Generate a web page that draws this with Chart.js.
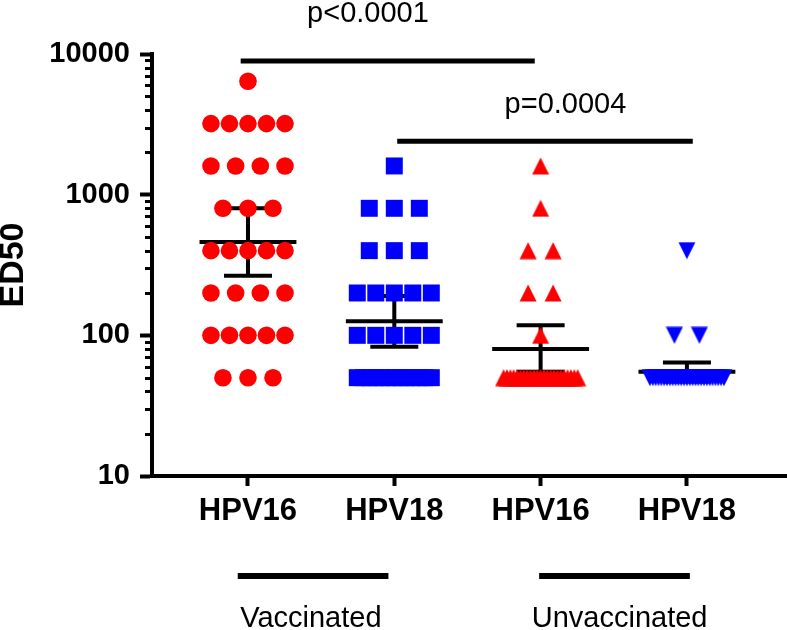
<!DOCTYPE html>
<html>
<head>
<meta charset="utf-8">
<script src="https://cdn.jsdelivr.net/npm/chart.js@4.4.1/dist/chart.umd.min.js"></script>
<style>
  html, body { margin: 0; padding: 0; background: #fff; overflow: hidden; }
  canvas { display: block; }
</style>
</head>
<body>
<canvas id="ed50Chart" width="787" height="630"></canvas>
<script>
// Données
const categories = ["HPV16", "HPV18", "HPV16", "HPV18"];
const groupLabels = ["Vaccinated", "Unvaccinated"];
const pValues = ["p<0.0001", "p=0.0004"];
const titerLevels = [50, 100, 200, 400, 800, 1600, 3200, 6400];
// nombre de sérums à chaque dilution (même ordre que titerLevels)
const vacc16Counts = [3, 5, 4, 5, 3, 4, 5, 1];
const vacc18Counts = [13, 5, 5, 3, 3, 1, 0, 0];
const unvacc16Counts = [23, 1, 2, 2, 1, 1, 0, 0];
const unvacc18Counts = [27, 2, 0, 1, 0, 0, 0, 0];
// moyenne géométrique et IC 95%
const means = [460, 126, 80, 55];
const ciLow = [265, 83, 55, 47];
const ciHigh = [800, 190, 118, 64];
const yTicks = [10, 100, 1000, 10000];

const FONT = "'Liberation Sans', Arial, sans-serif";
const RED = "#ff0000";
const BLUE = "#0000ff";

// triangles centrés sur leur boîte (comme GraphPad)
function triangleImage(color, down) {
  const c = document.createElement("canvas");
  c.width = 18;
  c.height = 18;
  const g = c.getContext("2d");
  g.fillStyle = color;
  g.beginPath();
  if (down) {
    g.moveTo(0.5, 0.5); g.lineTo(17.5, 0.5); g.lineTo(9, 17.5);
  } else {
    g.moveTo(9, 0.5); g.lineTo(17.5, 17.5); g.lineTo(0.5, 17.5);
  }
  g.closePath();
  g.fill();
  return c;
}

// étale les points d'une même valeur horizontalement
function spreadPoints(counts, column) {
  const pts = [];
  counts.forEach((n, i) => {
    const step = n > 1 ? Math.min(0.171, 0.506 / (n - 1)) : 0;
    for (let k = 0; k < n; k++) {
      pts.push({ x: column + (k - (n - 1) / 2) * step, y: titerLevels[i] });
    }
  });
  return pts;
}

// ligne de moyenne + barres d'erreur, segments séparés par des trous
function errorBar(i) {
  const c = i + 1;
  const mw = 0.331, cw = 0.164;
  return [
    { x: c - mw, y: means[i] }, { x: c + mw, y: means[i] }, { x: c, y: null },
    { x: c - cw, y: ciHigh[i] }, { x: c + cw, y: ciHigh[i] }, { x: c, y: null },
    { x: c - cw, y: ciLow[i] }, { x: c + cw, y: ciLow[i] }, { x: c, y: null },
    { x: c, y: ciLow[i] }, { x: c, y: ciHigh[i] }
  ];
}

function pointSet(data, color, style, radius) {
  return {
    type: "scatter",
    data: data,
    pointStyle: style,
    pointRadius: radius,
    backgroundColor: color,
    borderColor: color,
    borderWidth: 0,
    order: 2,
  };
}

function barSet(i) {
  return {
    type: "scatter",
    data: errorBar(i),
    showLine: true,
    spanGaps: false,
    pointRadius: 0,
    borderColor: "#000",
    borderWidth: 4,
    borderCapStyle: "butt",
    order: 3,
  };
}

const datasets = [
  barSet(0), barSet(1), barSet(2), barSet(3),
  pointSet(spreadPoints(vacc16Counts, 1), RED, "circle", 8.8),
  pointSet(spreadPoints(vacc18Counts, 2), BLUE, "rect", 12),
  pointSet(spreadPoints(unvacc16Counts, 3), RED, triangleImage(RED, false), 9),
  pointSet(spreadPoints(unvacc18Counts, 4), BLUE, triangleImage(BLUE, true), 9),
];

// barres de significativité et groupes sous l'axe
const sigBars = [
  { from: 0.95, to: 2.96, level: 8900, textX: 1.82, lift: 39, text: pValues[0] },
  { from: 2.02, to: 4.04, level: 2400, textX: 3.17, lift: 28, text: pValues[1] },
];
const groupBars = [
  { from: 0.93, to: 1.96, textX: 1.43, text: groupLabels[0] },
  { from: 2.99, to: 4.02, textX: 3.54, text: groupLabels[1] },
];

const extrasPlugin = {
  id: "extras",
  afterDraw(chart) {
    const { ctx, scales: { x, y } } = chart;
    ctx.save();
    // petites graduations du log
    ctx.strokeStyle = "#000";
    ctx.lineWidth = 3;
    for (let d = 10; d < 10000; d *= 10) {
      for (let m = 2; m <= 9; m++) {
        const py = Math.round(y.getPixelForValue(d * m)) + 0.5;
        ctx.beginPath();
        ctx.moveTo(y.right - 7, py);
        ctx.lineTo(y.right, py);
        ctx.stroke();
      }
    }
    ctx.fillStyle = "#000";
    ctx.textAlign = "center";
    ctx.textBaseline = "alphabetic";
    ctx.font = "29px " + FONT;
    ctx.lineWidth = 5;
    sigBars.forEach((b) => {
      const py = y.getPixelForValue(b.level);
      ctx.beginPath();
      ctx.moveTo(x.getPixelForValue(b.from), py);
      ctx.lineTo(x.getPixelForValue(b.to), py);
      ctx.stroke();
      ctx.fillText(b.text, x.getPixelForValue(b.textX), py - b.lift);
    });
    ctx.lineWidth = 6;
    groupBars.forEach((b) => {
      const py = chart.chartArea.bottom + 100;
      ctx.beginPath();
      ctx.moveTo(x.getPixelForValue(b.from), py);
      ctx.lineTo(x.getPixelForValue(b.to), py);
      ctx.stroke();
      ctx.fillText(b.text, x.getPixelForValue(b.textX), py + 51);
    });
    ctx.restore();
  },
};

const ctx = document.getElementById("ed50Chart").getContext("2d");
new Chart(ctx, {
  type: "scatter",
  data: { datasets: datasets },
  plugins: [extrasPlugin],
  options: {
    responsive: false,
    animation: false,
    layout: {
      autoPadding: false,
      padding: { top: 54, left: 0, right: 0, bottom: 0 },
    },
    plugins: {
      legend: { display: false },
      tooltip: { enabled: false },
    },
    scales: {
      x: {
        type: "linear",
        position: "bottom",
        min: 0.344,
        max: 4.684,
        afterBuildTicks: (axis) => {
          axis.ticks = categories.map((c, i) => ({ value: i + 1 }));
        },
        afterFit: (axis) => {
          axis.height = 154;
          axis.paddingLeft = 0;
          axis.paddingRight = 0;
        },
        grid: {
          drawOnChartArea: false,
          tickLength: 10,
          tickWidth: 4,
          tickColor: "#000",
        },
        border: { display: true, width: 4, color: "#000" },
        ticks: {
          color: "#000",
          padding: 7,
          maxRotation: 0,
          font: { family: FONT, size: 31, weight: "bold" },
          callback: (v) => categories[Math.round(v) - 1],
        },
      },
      y: {
        type: "logarithmic",
        position: "left",
        min: 10,
        max: 10000,
        afterBuildTicks: (axis) => {
          axis.ticks = yTicks.map((v) => ({ value: v }));
        },
        afterFit: (axis) => {
          axis.width = 152;
          axis.paddingTop = 0;
          axis.paddingBottom = 0;
        },
        grid: {
          drawOnChartArea: false,
          tickLength: 12,
          tickWidth: 4,
          tickColor: "#000",
        },
        border: { display: true, width: 4, color: "#000" },
        ticks: {
          color: "#000",
          padding: 10,
          font: { family: FONT, size: 29, weight: "bold" },
          callback: (v) => String(v),
        },
        title: {
          display: true,
          text: "ED50",
          color: "#000",
          padding: 0,
          font: { family: FONT, size: 34, weight: "bold", lineHeight: 0.8 },
        },
      },
    },
  },
});
</script>
</body>
</html>
